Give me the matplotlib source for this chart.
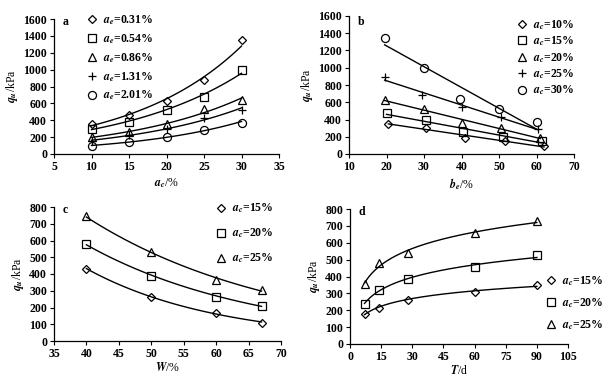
import numpy as np
import matplotlib
matplotlib.use("Agg")
import matplotlib.pyplot as plt
from matplotlib.lines import Line2D

plt.rcParams['font.family'] = ['Liberation Serif', 'DejaVu Serif']
plt.rcParams['mathtext.fontset'] = 'stix'
plt.rcParams['font.weight'] = 'bold'
plt.rcParams['font.size'] = 8.5

# Panel a
a_x = [10, 15, 20, 25, 30]
a_labels = ['0.31%', '0.54%', '0.86%', '1.31%', '2.01%']
a_vals = [
    [350, 460, 630, 880, 1350],
    [300, 380, 520, 680, 1000],
    [200, 260, 350, 530, 640],
    [160, 220, 300, 430, 520],
    [100, 140, 200, 290, 370],
]
# Panel b
b_labels = ['10%', '15%', '20%', '25%', '30%']
b_x = [
    [20.5, 30.5, 41, 51.5, 62],
    [20, 30.5, 40.5, 51, 61.5],
    [19.5, 30, 40, 50.5, 61],
    [19.5, 29.5, 40, 50.5, 60.5],
    [19.5, 30, 39.5, 50, 60],
]
b_vals = [
    [350, 300, 190, 150, 90],
    [470, 390, 260, 200, 150],
    [630, 520, 360, 300, 190],
    [890, 680, 550, 430, 290],
    [1350, 1000, 640, 520, 370],
]
# Panel c
c_x = [40, 50, 60, 67]
c_labels = ['15%', '20%', '25%']
c_vals = [
    [430, 260, 170, 110],
    [580, 390, 265, 210],
    [745, 530, 365, 305],
]
# Panel d
d_x = [7, 14, 28, 60, 90]
d_labels = ['15%', '20%', '25%']
d_vals = [
    [180, 215, 260, 310, 350],
    [240, 320, 385, 455, 525],
    [355, 480, 540, 655, 730],
]

W, H = 611, 381
fig = plt.figure(figsize=(W / 100, H / 100), dpi=100)

def add_ax(l, r, t, b):
    return fig.add_axes([l / W, 1 - b / H, (r - l) / W, (b - t) / H])

axa = add_ax(54, 279, 19, 154)
axb = add_ax(349, 574, 16, 154)
axc = add_ax(54, 281, 207, 341)
axd = add_ax(350, 568, 209, 344)

mk = dict(mfc='none', mec='black', color='black', linestyle='none', mew=0.9)
styles5 = [('D', 3.8), ('s', 5.5), ('^', 5.5), ('+', 6), ('o', 5.8)]
styles3 = [('D', 3.8), ('s', 5.5), ('^', 5.5)]

def style_ax(ax):
    for s in ['top', 'right']:
        ax.spines[s].set_visible(False)
    ax.tick_params(direction='out', length=3, width=0.8, pad=2)
    for s in ['left', 'bottom']:
        ax.spines[s].set_linewidth(0.9)

def make_legend(ax, styles, labels, prefix, loc, anchor, spacing, fs=8.5):
    handles = [Line2D([], [], marker=m, markersize=s, **mk) for m, s in styles]
    labs = [r'$a_%s$=%s' % (prefix, l) for l in labels]
    ax.legend(handles, labs, loc=loc, bbox_to_anchor=anchor, frameon=False,
              handlelength=0.8, handletextpad=0.5, labelspacing=spacing,
              borderpad=0, borderaxespad=0, fontsize=fs)

# a: exponential fits
xa = np.linspace(10, 30, 100)
for (m, s), v in zip(styles5, a_vals):
    axa.plot(a_x, v, marker=m, markersize=s, **mk)
    k, c0 = np.polyfit(a_x, np.log(v), 1)
    axa.plot(xa, np.exp(c0 + k * xa), color='black', lw=1)
axa.set_xlim(5, 35)
axa.set_ylim(0, 1600)
axa.set_xticks(range(5, 36, 5))
axa.set_yticks(range(0, 1601, 200))
axa.set_xlabel(r'$a_c$/%', labelpad=2)
axa.set_ylabel(r'$q_u$/kPa', labelpad=2)
axa.text(0.04, 0.98, 'a', transform=axa.transAxes, ha='left', va='center')
style_ax(axa)
make_legend(axa, styles5, a_labels, 'e', 'upper left', (0.148, 1.04), 0.42)

# b: linear fits
for (m, s), xs, v in zip(styles5, b_x, b_vals):
    axb.plot(xs, v, marker=m, markersize=s, **mk)
    k, c0 = np.polyfit(xs, v, 1)
    xx = np.array([min(xs), max(xs)])
    axb.plot(xx, c0 + k * xx, color='black', lw=1)
axb.set_xlim(10, 70)
axb.set_ylim(0, 1600)
axb.set_xticks(range(10, 71, 10))
axb.set_yticks(range(0, 1601, 200))
axb.set_xlabel(r'$b_e$/%', labelpad=2)
axb.set_ylabel(r'$q_u$/kPa', labelpad=2)
axb.text(0.04, 0.96, 'b', transform=axb.transAxes, ha='left', va='center')
style_ax(axb)
make_legend(axb, styles5, b_labels, 'c', 'upper left', (0.75, 0.985), 0.22)

# c: exponential decay fits
xc = np.linspace(40, 67, 100)
for (m, s), v in zip(styles3, c_vals):
    axc.plot(c_x, v, marker=m, markersize=s, **mk)
    k, c0 = np.polyfit(c_x, np.log(v), 1)
    axc.plot(xc, np.exp(c0 + k * xc), color='black', lw=1)
axc.set_xlim(35, 70)
axc.set_ylim(0, 800)
axc.set_xticks(range(35, 71, 5))
axc.set_yticks(range(0, 801, 100))
axc.set_xlabel(r'$W$/%', labelpad=1)
axc.set_ylabel(r'$q_u$/kPa', labelpad=2)
axc.text(0.04, 0.98, 'c', transform=axc.transAxes, ha='left', va='center')
style_ax(axc)
make_legend(axc, styles3, c_labels, 'c', 'upper left', (0.715, 1.04), 0.95)

# d: logarithmic fits
xd = np.linspace(7, 90, 200)
for (m, s), v in zip(styles3, d_vals):
    axd.plot(d_x, v, marker=m, markersize=s, **mk)
    k, c0 = np.polyfit(np.log(d_x), v, 1)
    axd.plot(xd, c0 + k * np.log(xd), color='black', lw=1)
axd.set_xlim(0, 105)
axd.set_ylim(0, 800)
axd.set_xticks(range(0, 106, 15))
axd.set_yticks(range(0, 801, 100))
axd.set_xlabel(r'$T$/d', labelpad=1)
axd.set_ylabel(r'$q_u$/kPa', labelpad=2)
axd.text(0.04, 0.98, 'd', transform=axd.transAxes, ha='left', va='center')
style_ax(axd)
make_legend(axd, styles3, d_labels, 'c', 'upper left', (0.9, 0.515), 0.67)

fig.savefig('out.png', dpi=100)
